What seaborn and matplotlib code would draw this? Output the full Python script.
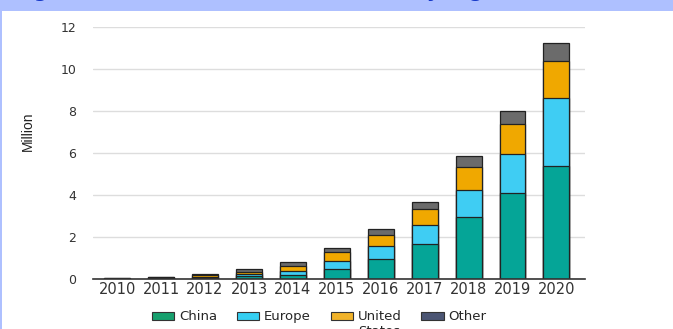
import pandas as pd
import seaborn as sns
import matplotlib.pyplot as plt
from matplotlib.patches import Patch, Rectangle
from matplotlib.legend_handler import HandlerPatch

# Values (million vehicles)
years = ['2010', '2011', '2012', '2013', '2014', '2015', '2016', '2017', '2018', '2019', '2020']
china = [0.01, 0.03, 0.06, 0.13, 0.18, 0.48, 0.95, 1.68, 2.94, 4.11, 5.38]
europe = [0.01, 0.02, 0.04, 0.09, 0.19, 0.38, 0.62, 0.91, 1.30, 1.84, 3.25]
united_states = [0.01, 0.03, 0.08, 0.13, 0.25, 0.41, 0.53, 0.76, 1.11, 1.45, 1.77]
other = [0.01, 0.02, 0.04, 0.11, 0.19, 0.19, 0.27, 0.33, 0.51, 0.62, 0.82]

# every label gets two lines so the first lines line up with "United"
series_names = ['China\n', 'Europe\n', 'United\nStates', 'Other\n']
bar_colors = ['#05a597', '#3fcdf3', '#f0a800', '#6b6b6b']
legend_colors = ['#17a06e', '#35cff2', '#f1b32a', '#4b5573']

df = pd.DataFrame({'year': years, 'China': china, 'Europe': europe,
                   'United States': united_states, 'Other': other})
# cumulative tops, drawn from the tallest down so each layer covers the next
df['c1'] = df['China']
df['c2'] = df['c1'] + df['Europe']
df['c3'] = df['c2'] + df['United States']
df['c4'] = df['c3'] + df['Other']

sns.set_style('white')
fig = plt.figure(figsize=(6.73, 3.29), dpi=100)
ax = fig.add_axes([93 / 673, 50 / 329, 492 / 673, 252 / 329])

for col, color in zip(['c4', 'c3', 'c2', 'c1'], bar_colors[::-1]):
    sns.barplot(data=df, x='year', y=col, order=years, color=color, width=0.59,
                edgecolor='#222222', linewidth=0.9, saturation=1, ax=ax)

ax.set_xlim(-0.55, 10.65)
ax.set_ylim(0, 12)
ax.set_yticks([0, 2, 4, 6, 8, 10, 12])
ax.yaxis.grid(True, color='#dddddd', linewidth=1)
ax.set_axisbelow(True)
for side in ['top', 'right', 'left']:
    ax.spines[side].set_visible(False)
ax.spines['bottom'].set_color('#333333')
ax.spines['bottom'].set_linewidth(1.2)
ax.tick_params(axis='y', length=0, pad=12, labelsize=9, labelcolor='#333333')
ax.tick_params(axis='x', length=0, pad=2, labelsize=10.5, labelcolor='#333333')
ax.set_xlabel('')
ax.set_ylabel('Million', fontsize=10, color='#222222',
              family=['Liberation Sans Narrow', 'Liberation Sans'])
ax.yaxis.set_label_coords(-0.118, 0.587)


def raised_patch(legend, orig_handle, xdescent, ydescent, width, height, fontsize):
    # lift the swatch to the first text line
    return Rectangle((-xdescent, -ydescent + 0.6 * fontsize), width, height)


handles = [Patch(facecolor=c, edgecolor='#333333', linewidth=0.8) for c in legend_colors]
fig.legend(handles, series_names, loc='upper left', bbox_to_anchor=(152 / 673, 19 / 329),
           ncol=4, frameon=False, fontsize=9.5, handlelength=1.7, handleheight=0.55,
           handletextpad=0.35, columnspacing=1.5, borderpad=0, borderaxespad=0,
           handler_map={Patch: HandlerPatch(patch_func=raised_patch)})

# blue page frame from the source document, with the cropped title
fig.patches.append(Rectangle((0, 318 / 329), 1, 11 / 329, transform=fig.transFigure,
                             facecolor='#aec0ff', edgecolor='none', zorder=0))
fig.patches.append(Rectangle((0, 0), 2 / 673, 1, transform=fig.transFigure,
                             facecolor='#aec0ff', edgecolor='none', zorder=0))
fig.text(14 / 673, 1 + 3 / 329, 'Figure 1.1: Global electric car stock by region, 2010-2020',
         fontsize=14, fontweight='bold', color='#1537c8', va='baseline', ha='left')

fig.savefig('out.png', dpi=100)
